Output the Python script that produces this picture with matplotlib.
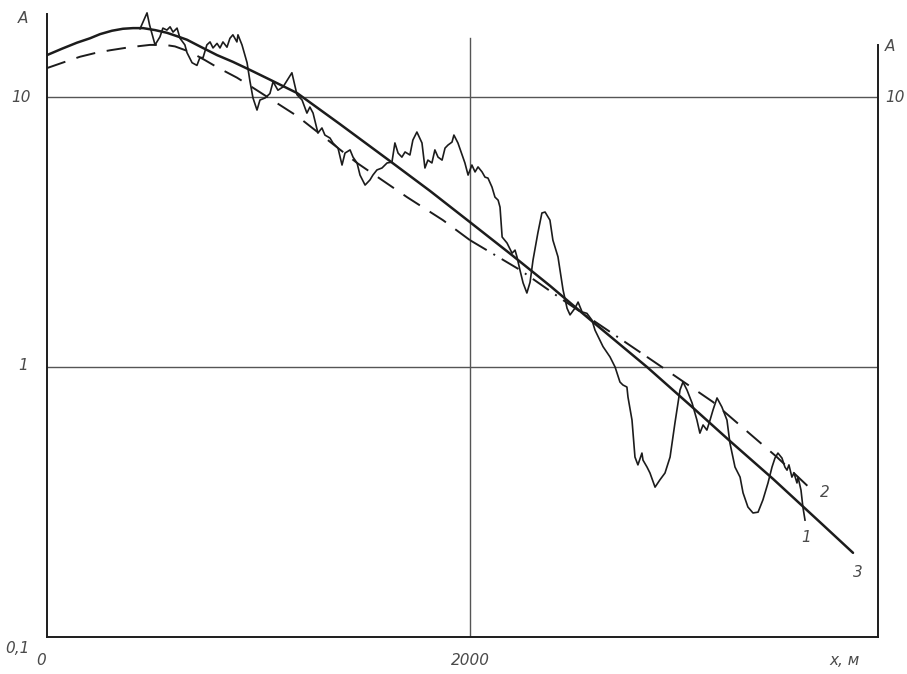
import numpy as np
import matplotlib
matplotlib.use("Agg")
import matplotlib.pyplot as plt

# Distance along the profile, m, and amplitude A
# Curve 1: measured amplitude
meas_x = [440, 473, 485, 511, 534, 548, 567, 582, 596, 615, 629, 652, 662, 686, 709,
          723, 738, 756, 771, 785, 804, 818, 832, 851, 865, 879, 898, 903, 922, 946,
          960, 974, 993, 1007, 1031, 1054, 1069, 1092, 1116, 1158, 1182, 1206, 1229,
          1243, 1258, 1281, 1300, 1314, 1338, 1352, 1376, 1395, 1409, 1433, 1447,
          1466, 1480, 1504, 1527, 1541, 1560, 1584, 1608, 1631, 1645, 1660, 1678,
          1693, 1716, 1730, 1749, 1773, 1787, 1801, 1820, 1834, 1849, 1868, 1882,
          1896, 1915, 1924, 1943, 1976, 1991, 2009, 2024, 2038, 2057, 2071, 2085,
          2104, 2118, 2133, 2142, 2152, 2175, 2199, 2213, 2222, 2236, 2251, 2269,
          2284, 2298, 2321, 2340, 2355, 2378, 2392, 2416, 2440, 2459, 2473, 2496,
          2511, 2530, 2553, 2577, 2591, 2629, 2662, 2686, 2709, 2723, 2742, 2747,
          2766, 2780, 2794, 2813, 2818, 2837, 2851, 2875, 2898, 2922, 2946, 2969,
          2993, 3007, 3026, 3050, 3073, 3087, 3102, 3120, 3135, 3149, 3168, 3191,
          3215, 3229, 3253, 3277, 3291, 3314, 3338, 3362, 3385, 3409, 3428, 3442,
          3456, 3475, 3489, 3499, 3508, 3522, 3532, 3546, 3551, 3565, 3574, 3584]
meas_a = [17.9, 20.5, 18.5, 15.6, 16.7, 18.0, 17.7, 18.2, 17.4, 18.0, 16.5, 15.6, 14.6,
          13.4, 13.1, 14.0, 14.0, 15.6, 16.0, 15.2, 15.8, 15.2, 16.0, 15.3, 16.5,
          17.0, 16.0, 17.0, 15.6, 13.4, 11.4, 9.92, 8.95, 9.75, 9.92, 10.3, 11.4,
          10.6, 10.9, 12.3, 10.2, 9.75, 8.72, 9.18, 8.72, 7.36, 7.68, 7.23, 7.05,
          6.76, 6.47, 5.60, 6.20, 6.37, 5.99, 5.70, 5.14, 4.72, 4.93, 5.14, 5.37,
          5.46, 5.70, 5.74, 6.76, 6.20, 5.99, 6.26, 6.10, 6.93, 7.42, 6.76, 5.46,
          5.84, 5.70, 6.37, 5.99, 5.84, 6.47, 6.64, 6.81, 7.23, 6.76, 5.70, 5.14,
          5.60, 5.28, 5.51, 5.28, 5.05, 5.01, 4.64, 4.26, 4.15, 3.91, 3.03, 2.88,
          2.64, 2.71, 2.56, 2.29, 2.05, 1.88, 2.06, 2.49, 3.14, 3.72, 3.75, 3.50,
          2.95, 2.56, 1.93, 1.65, 1.56, 1.65, 1.74, 1.60, 1.58, 1.49, 1.37, 1.19,
          1.09, 1.00, 0.880, 0.858, 0.843, 0.774, 0.636, 0.464, 0.434, 0.480, 0.452,
          0.426, 0.405, 0.359, 0.382, 0.405, 0.464, 0.620, 0.822, 0.880, 0.822,
          0.736, 0.636, 0.569, 0.610, 0.584, 0.636, 0.693, 0.768, 0.711, 0.636,
          0.523, 0.426, 0.391, 0.342, 0.303, 0.288, 0.290, 0.322, 0.372, 0.426,
          0.460, 0.480, 0.460, 0.426, 0.415, 0.434, 0.391, 0.405, 0.372, 0.391,
          0.350, 0.303, 0.271]

# Curve 2: approximation
approx_x = [0, 85, 156, 227, 298, 392, 487, 558, 605, 676, 747, 804, 898, 960, 1182,
            1466, 1702, 1872, 2000, 2236, 2440, 2662, 2837, 2983, 3149, 3314, 3451, 3617]
approx_a = [12.8, 13.5, 14.1, 14.55, 14.9, 15.3, 15.6, 15.6, 15.4, 14.7, 13.7, 12.9,
            11.8, 11.0, 8.51, 5.70, 4.26, 3.50, 2.95, 2.29, 1.77, 1.35, 1.09, 0.911,
            0.742, 0.574, 0.464, 0.350]

# Curve 3: calculated amplitude
calc_x = [0, 71, 142, 203, 251, 307, 359, 407, 454, 511, 567, 615, 662, 723, 804, 879,
          960, 1054, 1182, 1385, 1622, 1811, 2000, 2203, 2378, 2567, 2837, 3040, 3229,
          3433, 3669, 3811]
calc_a = [14.3, 15.1, 15.9, 16.5, 17.1, 17.6, 17.9, 18.0, 18.0, 17.7, 17.3, 16.8, 16.3,
          15.4, 14.3, 13.5, 12.6, 11.6, 10.35, 7.94, 5.79, 4.49, 3.44, 2.58, 2.00,
          1.50, 1.00, 0.723, 0.532, 0.385, 0.260, 0.205]

x_ticks = [0, 2000]
x_tick_labels = ["0", "2000"]
y_ticks = [0.1, 1, 10]
y_tick_labels = ["0,1", "1", "10"]

ink = "#1c1c1c"
text_col = "#4a4a4a"
font = dict(family="DejaVu Sans", style="italic", color=text_col, fontsize=11)

fig = plt.figure(figsize=(9.07, 6.74), dpi=100)
ax = fig.add_axes([0.0518, 0.0549, 0.9162, 0.9243])
ax.set_yscale("log")
ax.set_xlim(0, 3929)
ax.set_ylim(0.1, 20.3)

# grid lines
grid_col = "#555555"
ax.plot([0, 3929], [10, 10], color=grid_col, lw=1.0)
ax.plot([0, 3929], [1, 1], color=grid_col, lw=1.0)
ax.plot([2000, 2000], [0.1, 16.5], color=grid_col, lw=1.0)

# curves
ax.plot(calc_x, calc_a, color=ink, lw=1.8, solid_capstyle="round",
        solid_joinstyle="round")
ax.plot(meas_x, meas_a, color=ink, lw=1.2, clip_on=False, solid_joinstyle="round")

ax2x = np.array(approx_x)
ax2a = np.array(approx_a)
m1 = ax2x <= 2000
m2 = (ax2x >= 2000) & (ax2x <= 2837)
m3 = ax2x >= 2837
ax.plot(ax2x[m1], ax2a[m1], color=ink, lw=1.4, linestyle=(0, (10, 6)))
ax.plot(ax2x[m2], ax2a[m2], color=ink, lw=1.4, linestyle=(0, (10, 4, 1, 4)))
ax.plot(ax2x[m3], ax2a[m3], color=ink, lw=1.4, linestyle=(0, (10, 6)))

# spines
ax.spines["top"].set_visible(False)
for s in ("left", "bottom", "right"):
    ax.spines[s].set_color(ink)
    ax.spines[s].set_linewidth(1.4)
ax.spines["right"].set_bounds(0.1, 15.6)

ax.set_xticks([])
ax.set_yticks([])
ax.yaxis.set_minor_locator(matplotlib.ticker.NullLocator())

# x labels
for xv, lab in zip(x_ticks, x_tick_labels):
    ax.annotate(lab, (xv, 0.1), xytext=(-4 if xv == 0 else 0, -17),
                textcoords="offset points", ha="center", va="center", **font)
ax.annotate("x, м", (3770, 0.1), xytext=(0, -17), textcoords="offset points",
            ha="center", va="center", **font)

# y labels
y_off = {0.1: (-21, -8), 1: (-17, 1), 10: (-19, 0)}
for yv, lab in zip(y_ticks, y_tick_labels):
    ax.annotate(lab, (0, yv), xytext=y_off[yv], textcoords="offset points",
                ha="center", va="center", **font)
ax.annotate("A", (0, 20.3), xytext=(-17, -3), textcoords="offset points",
            ha="center", va="center", **font)
ax.annotate("A", (3929, 15.6), xytext=(5, -1), textcoords="offset points",
            ha="left", va="center", **font)
ax.annotate("10", (3929, 10), xytext=(5, 0), textcoords="offset points",
            ha="left", va="center", **font)

# curve numbers
ax.text(3590, 10 ** -0.63, "1", ha="center", va="center", **font)
ax.text(3680, 10 ** -0.465, "2", ha="center", va="center", **font)
ax.text(3835, 10 ** -0.76, "3", ha="center", va="center", **font)

fig.savefig("out.png", dpi=100)
